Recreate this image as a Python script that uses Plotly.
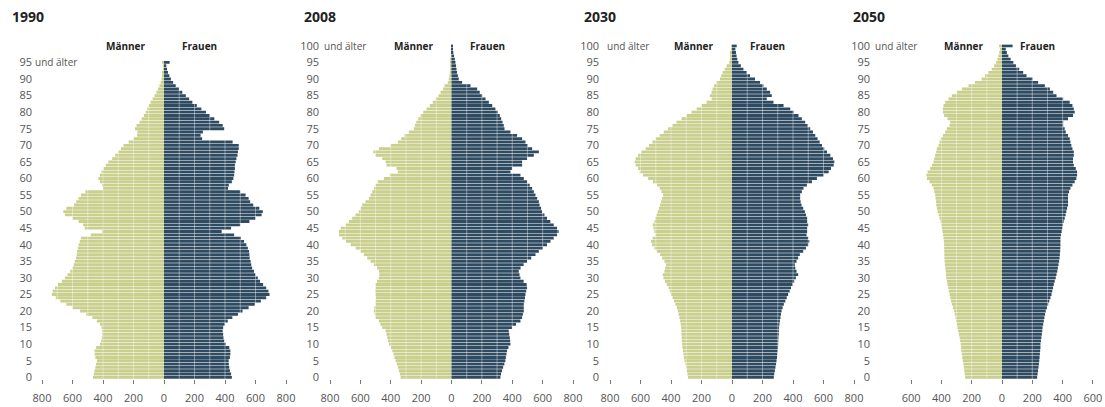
import plotly.graph_objects as go

# ---------------- data (thousands, by single year of age) ----------------
years = ["1990", "2008", "2030", "2050"]

ages_1990 = list(range(0, 96))       # 95 = "95 und älter"
ages_later = list(range(0, 101))     # 100 = "100 und älter"

men_1990 = [466,460,456,450,446,440,450,455,455,445,
            420,412,408,405,405,410,420,440,470,510,
            550,600,640,680,710,735,730,715,695,670,
            650,632,615,600,592,585,578,572,570,565,
            560,552,545,480,405,520,530,560,600,650,
            660,640,590,575,560,545,515,400,405,420,
            430,420,410,396,382,365,340,320,300,282,
            265,232,200,176,175,190,180,160,146,132,
            120,110,100,88,75,62,50,40,30,22,
            16,12,9,6,4,8]
women_1990 = [445,440,432,428,425,424,432,435,435,428,
              405,395,390,388,385,388,398,418,448,485,
              515,555,595,635,670,692,685,670,650,630,
              615,600,590,578,572,568,562,560,558,550,
              540,525,505,460,378,440,500,560,600,640,
              648,625,585,565,555,535,500,420,425,445,
              455,460,462,465,465,470,475,482,485,490,
              490,450,250,240,255,395,385,362,330,300,
              275,245,215,186,165,143,120,98,77,60,
              45,35,26,20,15,37]

men_2008 = [335,340,346,352,360,368,375,382,390,400,
            412,418,423,428,434,456,468,478,500,505,
            511,508,500,500,498,500,502,500,500,490,
            478,475,478,490,511,533,555,577,599,630,
            664,695,719,741,741,730,697,675,654,632,
            610,598,588,566,544,533,522,511,500,485,
            445,406,353,362,428,434,456,500,515,478,
            401,353,331,309,281,248,241,232,219,204,
            186,164,143,123,103,86,72,55,46,24,
            18,14,11,8,6,5,4,3,2,2,3]
women_2008 = [322,326,333,340,348,355,358,362,366,375,
              388,386,384,380,377,399,425,454,465,470,
              476,476,476,480,484,487,492,498,495,475,
              454,448,443,455,475,498,525,553,575,602,
              629,652,673,695,706,695,673,651,629,612,
              596,590,580,575,564,553,542,531,515,498,
              476,454,388,399,465,465,498,542,575,531,
              502,487,465,432,388,349,344,336,327,318,
              305,289,268,246,224,202,186,169,125,70,
              48,42,36,33,30,26,22,17,12,8,5]

men_2030 = [289,292,296,300,305,311,315,318,322,325,
            327,329,330,331,332,333,336,340,345,350,
            355,362,371,380,390,399,408,416,428,440,
            450,454,443,438,432,443,458,471,493,510,
            524,531,520,502,509,515,520,509,502,495,
            487,480,471,465,458,452,463,474,491,518,
            550,583,605,616,632,638,632,616,594,566,
            544,522,500,474,447,419,390,364,331,298,
            265,232,200,167,134,145,134,127,118,101,
            79,70,61,48,35,18,14,10,7,5,5]
women_2030 = [274,277,281,285,289,292,295,297,300,302,
              303,304,305,307,308,309,311,314,318,321,
              325,332,340,350,359,368,378,387,397,408,
              419,434,423,415,412,423,434,445,467,485,
              500,507,500,489,493,493,500,493,493,485,
              478,467,456,450,447,447,458,469,491,524,
              557,601,634,649,667,671,662,645,623,605,
              590,575,561,546,531,513,496,480,458,436,
              404,382,338,272,228,261,250,228,206,184,
              151,118,96,75,58,42,35,30,26,22,31]

men_2050 = [243,246,249,252,255,259,262,265,268,270,
            272,276,280,285,290,294,298,303,307,312,
            316,323,331,336,341,346,351,355,360,364,
            368,370,372,374,377,379,380,381,381,382,
            382,384,386,389,393,397,401,405,412,418,
            425,430,434,436,438,441,447,452,463,478,
            496,500,491,474,463,452,447,441,434,430,
            419,412,404,390,375,364,346,342,360,382,
            390,390,386,375,353,331,298,265,221,178,
            134,112,90,68,52,39,30,24,18,12,20]
women_2050 = [232,235,238,241,244,246,248,250,252,254,
              254,257,260,263,266,268,272,276,280,284,
              289,297,305,312,320,327,332,337,342,348,
              355,360,365,369,373,377,380,382,384,385,
              386,386,386,389,394,399,403,407,414,420,
              425,430,436,436,436,436,443,452,465,480,
              491,496,496,487,474,469,469,474,474,465,
              458,452,447,436,421,414,404,404,436,469,
              480,474,465,447,404,360,338,316,283,239,
              202,162,140,114,92,75,57,42,32,25,70]

ages = [ages_1990, ages_later, ages_later, ages_later]
men = [men_1990, men_2008, men_2030, men_2050]
women = [women_1990, women_2008, women_2030, women_2050]

x_ticks = [[-800, -600, -400, -200, 0, 200, 400, 600, 800]] * 3 + [[-600, -400, -200, 0, 200, 400, 600]]
x_ranges = [800, 800, 800, 680]
legend_men = "Männer"
legend_women = "Frauen"
top_suffix = "und älter"

# ---------------- layout geometry (pixels) ----------------
W, H = 1105, 407
px_domains = [(42, 286), (330, 573), (610, 854), (899, 1105)]
label_edge = [31, 318, 598, 869]       # right edge of age labels
suffix_x = [33, 322, 605, 873]          # start of "und älter"
title_x = [10, 302, 582, 851]
plot_top, plot_bottom = 44.2, 379

C_MEN = "#c9cf8d"
C_WOMEN = "#2e4b62"
FONT = "Open Sans"

fig = go.Figure()
layout = dict(width=W, height=H, margin=dict(l=0, r=0, t=0, b=0),
              paper_bgcolor="white", plot_bgcolor="white",
              showlegend=False, barmode="relative", bargap=0.14,
              font=dict(family=FONT, color="#444"))
annotations, shapes = [], []
yd = [1 - plot_bottom / H, 1 - plot_top / H]

for i in range(4):
    sfx = "" if i == 0 else str(i + 1)
    xa, ya = f"x{sfx}", f"y{sfx}"
    fig.add_trace(go.Bar(y=ages[i], x=[-v for v in men[i]], orientation="h",
                         marker=dict(color=C_MEN, line=dict(width=0)),
                         xaxis=xa, yaxis=ya, name=legend_men,
                         customdata=men[i], hovertemplate="%{y}: %{customdata}<extra></extra>"))
    fig.add_trace(go.Bar(y=ages[i], x=women[i], orientation="h",
                         marker=dict(color=C_WOMEN, line=dict(width=0)),
                         xaxis=xa, yaxis=ya, name=legend_women,
                         hovertemplate="%{y}: %{x}<extra></extra>"))
    R = x_ranges[i]
    tv = x_ticks[i]
    layout[f"xaxis{sfx}"] = dict(domain=[px_domains[i][0] / W, px_domains[i][1] / W],
                                 range=[-R, R], anchor=ya, tickvals=tv,
                                 ticktext=[str(abs(v)) for v in tv],
                                 ticks="outside", ticklen=4, tickwidth=1, tickcolor="#777",
                                 ticklabelstandoff=5,
                                 showgrid=False, zeroline=False, showline=False,
                                 tickfont=dict(size=11, color="#555", family=FONT),
                                 fixedrange=True, automargin=False)
    top = ages[i][-1]
    yv = list(range(0, top + 1, 5))
    layout[f"yaxis{sfx}"] = dict(domain=yd, range=[-0.5, 100.5], anchor="free",
                                 position=(label_edge[i] + 1) / W,
                                 tickvals=yv, ticktext=[str(v) for v in yv],
                                 ticks="", showgrid=False, zeroline=False, showline=False,
                                 tickfont=dict(size=11, color="#555", family=FONT),
                                 fixedrange=True, automargin=False)
    annotations.append(dict(text=top_suffix, xref="paper", yref=ya, x=suffix_x[i] / W, y=top,
                            xanchor="left", yanchor="middle", showarrow=False,
                            font=dict(size=10, color="#555", family=FONT)))
    annotations.append(dict(text=f"<b>{years[i]}</b>", xref="paper", yref="paper",
                            x=title_x[i] / W, y=1 - 17 / H, xanchor="left", yanchor="middle",
                            showarrow=False, font=dict(size=14, color="#222", family=FONT)))
    annotations.append(dict(text=f"<b>{legend_men}</b>", xref=xa, yref="paper", x=0, xshift=-16,
                            y=1 - 46 / H, xanchor="right", yanchor="middle", showarrow=False,
                            font=dict(size=10, color="#222", family=FONT)))
    annotations.append(dict(text=f"<b>{legend_women}</b>", xref=xa, yref="paper", x=0, xshift=16,
                            y=1 - 46 / H, xanchor="left", yanchor="middle", showarrow=False,
                            font=dict(size=10, color="#222", family=FONT)))
    step_max = 700 if R >= 800 else 600
    for g in range(100, step_max + 1, 100):
        for s in (-1, 1):
            shapes.append(dict(type="line", xref=xa, yref=f"{ya} domain", x0=s * g, x1=s * g,
                               y0=0, y1=1, layer="above",
                               line=dict(color="rgba(255,255,255,0.4)", width=1)))

layout["annotations"] = annotations
layout["shapes"] = shapes
fig.update_layout(**layout)

fig.write_html("out.html", config={"displayModeBar": False},
               post_script="document.body.style.margin='0';document.body.style.padding='0';")
